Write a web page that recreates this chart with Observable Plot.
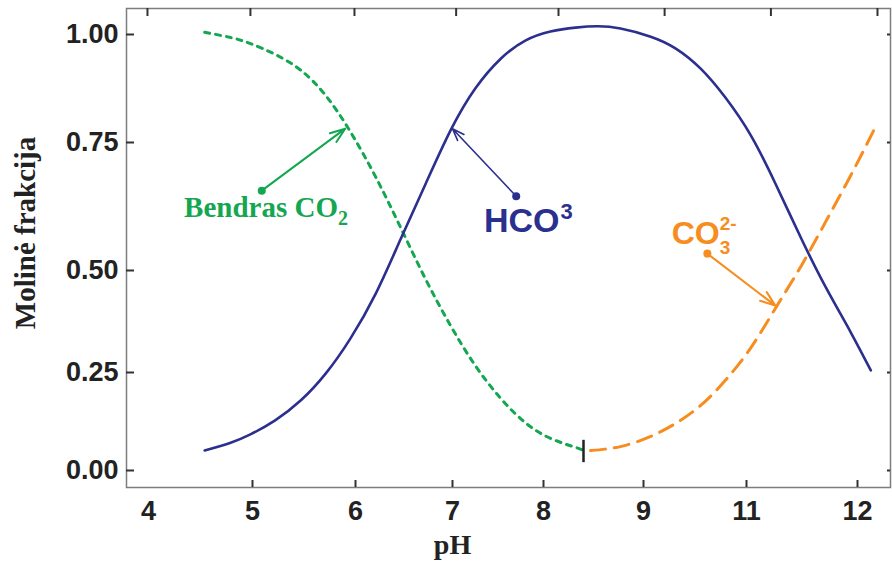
<!DOCTYPE html>
<html>
<head>
<meta charset="utf-8">
<script src="https://cdn.jsdelivr.net/npm/d3@7"></script>
<script src="https://cdn.jsdelivr.net/npm/@observablehq/plot@0.6"></script>
<style>
  html, body { margin: 0; padding: 0; background: #fff; }
</style>
</head>
<body>
<div id="chart"></div>
<script>
// ---- data ----
const xTicks = [4, 5, 6, 7, 8, 9, 11, 12];
const xTicksBottom = [5, 6, 7, 8, 9, 11, 12];
const xTicksTop = [3.99, 4.98, 5.99, 7.04, 8.15, 9.41, 11.22, 12.18];
const yTicks = [0, 0.25, 0.5, 0.75, 1];

// HCO3 (solid blue)
const hco3 = [
  [4.54, 0.051], [4.79, 0.071], [4.98, 0.092], [5.22, 0.128], [5.47, 0.179],
  [5.71, 0.247], [5.95, 0.333], [6.21, 0.444], [6.46, 0.559], [6.72, 0.668],
  [6.98, 0.778], [7.25, 0.875], [7.53, 0.944], [7.80, 0.986], [8.07, 1.007],
  [8.32, 1.016], [8.54, 1.019], [8.77, 1.014], [9.14, 0.995], [9.62, 0.968],
  [10.11, 0.921], [10.59, 0.854], [11.04, 0.766], [11.26, 0.670], [11.49, 0.564],
  [11.71, 0.461], [11.94, 0.348], [12.12, 0.255]
];
// total CO2 (dotted green)
const co2 = [
  [4.54, 1.005], [4.79, 0.993], [4.98, 0.979], [5.22, 0.954], [5.47, 0.917],
  [5.71, 0.859], [5.95, 0.775], [6.21, 0.682], [6.46, 0.586], [6.72, 0.480],
  [6.98, 0.365], [7.25, 0.267], [7.53, 0.184], [7.80, 0.122], [8.07, 0.082],
  [8.32, 0.059], [8.40, 0.051]
];
// CO3 2- (dashed orange)
const co3 = [
  [8.47, 0.051], [8.77, 0.061], [9.14, 0.087], [9.62, 0.120], [10.11, 0.166],
  [10.59, 0.230], [11.04, 0.311], [11.26, 0.407], [11.49, 0.508], [11.71, 0.594],
  [11.94, 0.686], [12.16, 0.785]
];
// short black marker
const marker = [{x: 8.40, y1: 0.020, y2: 0.077}];

// annotations (pH, fraction)
const arrowCO2 = [{x1: 5.09, y1: 0.656, x2: 5.90, y2: 0.782}];
const arrowHCO3 = [{x1: 7.70, y1: 0.645, x2: 7.00, y2: 0.782}];
const arrowCO3 = [{x1: 10.24, y1: 0.533, x2: 11.26, y2: 0.414}];
const labelCO2 = [{x: 5.83, y: 0.605, main: "Bendras CO", sub: "2"}];
const labelHCO3 = [{x: 8.16, y: 0.576, main: "HCO", sup: "3"}];
const labelCO3 = [{x: 10.48, y: 0.551, main: "CO", sup: "2-", sub: "3"}];

const xLabel = "pH";
const yLabel = "Molinė frakcija";

// ---- styles ----
const BLUE = "#2b2f8e";
const GREEN = "#14a650";
const ORANGE = "#f68d1e";
const SANS = "Liberation Sans, Arial, sans-serif";
const SERIF = "Liberation Serif, Times New Roman, serif";

const W = 892, H = 566;
const mL = 126, mR = 2, mT = 8, mB = 79;
const frameW = W - mL - mR, frameH = H - mT - mB;

const chart = Plot.plot({
  width: W,
  height: H,
  marginLeft: mL,
  marginRight: mR,
  marginTop: mT,
  marginBottom: mB,
  style: {fontFamily: SANS, background: "#fff", overflow: "visible"},
  x: {type: "linear", domain: xTicks, range: [148, 252, 355, 452, 543, 643, 746, 857]},
  y: {type: "linear", domain: yTicks, range: [470, 372, 270, 142, 34]},
  marks: [
    Plot.frame({stroke: "#7d7d7d", strokeWidth: 1.5}),
    // inner ticks
    Plot.ruleX(xTicksBottom, {x: d => d, insetTop: frameH - 7, stroke: "#333", strokeWidth: 2}),
    Plot.ruleX(xTicksTop, {x: d => d, insetBottom: frameH - 8, stroke: "#333", strokeWidth: 2}),
    Plot.ruleY(yTicks, {y: d => d, insetRight: frameW - 8, stroke: "#333", strokeWidth: 2}),
    Plot.ruleY(yTicks, {y: d => d, insetLeft: frameW - 3, stroke: "#333", strokeWidth: 2}),
    // axes labels
    Plot.axisX(xTicks, {tickSize: 0, tickPadding: 13, fontSize: 27, fontWeight: "bold", fill: "#222", tickFormat: d => String(d), label: null}),
    Plot.axisY(yTicks, {tickSize: 0, tickPadding: 8, fontSize: 27, fontWeight: "bold", fill: "#222", tickFormat: d3.format(".2f"), label: null}),
    Plot.text([yLabel], {frameAnchor: "left", textAnchor: "middle", dx: -101, dy: -15, rotate: -90, text: d => d, fontFamily: SERIF, fontWeight: "bold", fontSize: 29, fill: "#222"}),
    Plot.text([xLabel], {frameAnchor: "bottom", textAnchor: "middle", dx: -56, dy: 66, lineAnchor: "bottom", text: d => d, fontFamily: SERIF, fontWeight: "bold", fontSize: 28, fill: "#222"}),
    // curves
    Plot.line(co2, {x: d => d[0], y: d => d[1], stroke: GREEN, strokeWidth: 3, strokeDasharray: "5,6", curve: "natural"}),
    Plot.line(co3, {x: d => d[0], y: d => d[1], stroke: ORANGE, strokeWidth: 3, strokeDasharray: "15,9", curve: "natural"}),
    Plot.line(hco3, {x: d => d[0], y: d => d[1], stroke: BLUE, strokeWidth: 2.6, curve: "natural"}),
    Plot.ruleX(marker, {x: "x", y1: "y1", y2: "y2", stroke: "#222", strokeWidth: 2.5}),
    // arrows
    Plot.arrow(arrowCO2, {x1: "x1", y1: "y1", x2: "x2", y2: "y2", stroke: GREEN, strokeWidth: 2, headLength: 12, headAngle: 40}),
    Plot.dot(arrowCO2, {x: "x1", y: "y1", r: 4, fill: GREEN}),
    Plot.arrow(arrowHCO3, {x1: "x1", y1: "y1", x2: "x2", y2: "y2", stroke: BLUE, strokeWidth: 1.6, headLength: 12, headAngle: 40}),
    Plot.dot(arrowHCO3, {x: "x1", y: "y1", r: 4, fill: BLUE}),
    Plot.arrow(arrowCO3, {x1: "x1", y1: "y1", x2: "x2", y2: "y2", stroke: ORANGE, strokeWidth: 2, headLength: 12, headAngle: 40}),
    Plot.dot(arrowCO3, {x: "x1", y: "y1", r: 4, fill: ORANGE}),
    // labels
    Plot.text(labelCO2, {x: "x", y: "y", text: "main", textAnchor: "end", lineAnchor: "bottom", fontFamily: SERIF, fontWeight: "bold", fontSize: 29, fill: GREEN}),
    Plot.text(labelCO2, {x: "x", y: "y", text: "sub", textAnchor: "start", lineAnchor: "bottom", dy: 8, fontFamily: SERIF, fontWeight: "bold", fontSize: 20, fill: GREEN}),
    Plot.text(labelHCO3, {x: "x", y: "y", text: "main", textAnchor: "end", lineAnchor: "bottom", fontFamily: SANS, fontWeight: "bold", fontSize: 34, fill: BLUE}),
    Plot.text(labelHCO3, {x: "x", y: "y", text: "sup", textAnchor: "start", lineAnchor: "bottom", dx: 1, dy: -13, fontFamily: SANS, fontWeight: "bold", fontSize: 22, fill: BLUE}),
    Plot.text(labelCO3, {x: "x", y: "y", text: "main", textAnchor: "end", lineAnchor: "bottom", fontFamily: SANS, fontWeight: "bold", fontSize: 32, fill: ORANGE}),
    Plot.text(labelCO3, {x: "x", y: "y", text: "sup", textAnchor: "start", lineAnchor: "bottom", dy: -14, fontFamily: SANS, fontWeight: "bold", fontSize: 19, fill: ORANGE}),
    Plot.text(labelCO3, {x: "x", y: "y", text: "sub", textAnchor: "start", lineAnchor: "bottom", dy: 10, fontFamily: SANS, fontWeight: "bold", fontSize: 19, fill: ORANGE})
  ]
});

document.getElementById("chart").appendChild(chart);
</script>
</body>
</html>
